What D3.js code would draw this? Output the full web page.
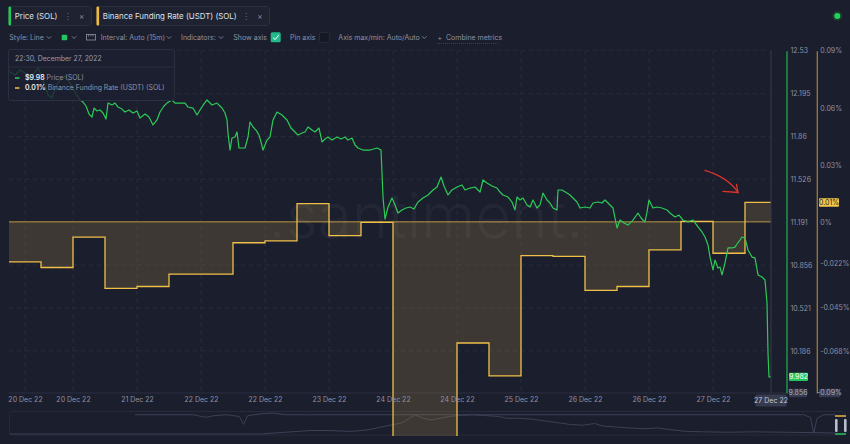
<!DOCTYPE html>
<html>
<head>
<meta charset="utf-8">
<script src="https://cdn.jsdelivr.net/npm/d3@7"></script>
<style>
  html, body { margin: 0; padding: 0; background: #1b1e2c; }
  svg { display: block; font-family: Inter, "DejaVu Sans", sans-serif; }
</style>
</head>
<body>
<div id="viz"></div>
<script>
// ---- data ----
const startTime = "2022-12-20 00:00"
const endTime = "2022-12-27 22:30"

// price of SOL: [hours since start, price]
const priceSeries = [
  [0, 12.37], [0.25, 12.364], [1.5, 12.34], [2.75, 12.379], [4, 12.356], [5.25, 12.317], [6.5, 12.364],
  [7.25, 12.395], [8.5, 12.301], [9.75, 12.184], [10.75, 12.16], [11.75, 12.254], [12.75, 12.301],
  [14, 12.332], [15.25, 12.278], [16.5, 12.207], [17.75, 12.145], [18.5, 12.129], [19.25, 12.098],
  [20, 12.035], [20.75, 12.012], [21.25, 12.082], [22, 12.059], [22.75, 12.067], [23.5, 12.043],
  [24.25, 11.996], [24.75, 12.121], [25.75, 12.106], [26.5, 12.121], [27.25, 12.09], [28.25, 12.074],
  [29, 12.051], [30, 12.067], [31, 12.043], [32, 12.059], [32.75, 12.004], [34, 12.035], [35, 12.012],
  [36, 11.95], [37, 11.989], [37.75, 12.051], [38.75, 12.098], [39.5, 12.121], [40.75, 12.145],
  [41.5, 12.121], [42.75, 12.121], [44, 12.121], [44.75, 12.09], [46, 12.082], [47, 12.028],
  [47.75, 12.067], [48.75, 12.114], [49.5, 12.145], [50.75, 12.106], [52, 12.121], [53.25, 12.082],
  [54, 12.043], [54.5, 11.989], [54.75, 11.887], [55.25, 11.754], [55.75, 11.848], [56.5, 11.856],
  [57, 11.895], [57.5, 11.77], [58.25, 11.77], [59, 11.77], [59.75, 11.856], [60.25, 11.973],
  [61, 11.934], [61.75, 11.91], [62.5, 11.871], [63, 11.817], [63.5, 11.754], [64.5, 11.832],
  [65.25, 11.856], [66, 11.989], [67, 12.051], [68.25, 12.028], [69.5, 11.989], [70.5, 11.926],
  [71.5, 11.895], [72.25, 11.871], [73.25, 11.887], [74, 11.895], [74.75, 11.934], [75.75, 11.91],
  [76.5, 11.895], [77.5, 11.926], [78.25, 11.817], [79, 11.84], [79.75, 11.856], [80.75, 11.832],
  [82, 11.856], [83, 11.84], [84, 11.856], [84.75, 11.832], [85.75, 11.848], [86.5, 11.793],
  [87.25, 11.77], [88.5, 11.754], [90.25, 11.754], [92, 11.77], [93, 11.754], [93.25, 11.575],
  [93.5, 11.387], [94, 11.215], [94.75, 11.309], [95.75, 11.379], [96.5, 11.325], [97.25, 11.262],
  [98.25, 11.286], [99.25, 11.301], [100.25, 11.309], [101.25, 11.293], [102.25, 11.348],
  [103.5, 11.379], [104.75, 11.403], [106, 11.442], [107, 11.465], [108, 11.543], [108.75, 11.473],
  [109.75, 11.403], [110.75, 11.442], [112, 11.465], [113.25, 11.481], [114, 11.442], [115.25, 11.457],
  [116.5, 11.465], [117.75, 11.426], [118.5, 11.52], [119.5, 11.496], [120.75, 11.473], [122, 11.457],
  [122.75, 11.426], [123.5, 11.403], [124.75, 11.387], [125.75, 11.348], [126.5, 11.286], [127, 11.387],
  [127.75, 11.364], [128.5, 11.379], [129.5, 11.325], [130.25, 11.309], [131, 11.364], [132, 11.301],
  [132.75, 11.325], [133.5, 11.418], [134.5, 11.364], [135.25, 11.34], [136, 11.301], [137, 11.286],
  [137.25, 11.442], [138.25, 11.442], [139.5, 11.418], [140.25, 11.403], [141, 11.379], [142, 11.348],
  [142.75, 11.301], [144, 11.309], [145.25, 11.301], [146, 11.34], [147.25, 11.348], [148.25, 11.34],
  [149, 11.364], [150.25, 11.325], [151, 11.301], [152, 11.145], [152.75, 11.207], [153.75, 11.184],
  [154.75, 11.168], [156, 11.207], [157.25, 11.262], [158, 11.223], [159, 11.192], [159.5, 11.27],
  [160, 11.364], [161, 11.301], [162, 11.309], [163.25, 11.301], [164.5, 11.286], [165.25, 11.262],
  [166.5, 11.231], [167.5, 11.246], [168.5, 11.207], [169.75, 11.192], [171, 11.207], [172.25, 11.153],
  [173.25, 11.114], [174, 11.075], [174.75, 11.012], [175.25, 10.918], [176, 10.817], [176.5, 10.895],
  [177.25, 10.832], [177.75, 10.84], [178.25, 10.778], [179, 10.872], [179.75, 10.989], [180.75, 10.989],
  [181.5, 10.996], [182, 11.02], [182.75, 11.051], [183.25, 11.075], [184, 11.067], [184.75, 10.973],
  [185.75, 10.918], [186.5, 10.911], [187.25, 10.778], [188.25, 10.762], [189, 10.739], [189.5, 10.559],
  [189.75, 10.168], [190, 9.981], [190.5, 9.982]
]

// Binance funding rate (%), one value per 8h period from the start
const fundingHours = 8
const fundingRates = [
  -0.021, -0.024, -0.008, -0.035, -0.034, -0.0275, -0.0275, -0.011,
  -0.010, 0.0096, -0.0072, -0.0003, -0.15, -0.15, -0.0637, -0.081,
  -0.0178, -0.0182, -0.036, -0.034, -0.0147, 0.0002, -0.0165, 0.0102
]

const priceTicks = [12.53, 12.195, 11.86, 11.526, 11.191, 10.856, 10.521, 10.186, 9.856]
const fundingTicks = [0.09, 0.06, 0.03, 0, -0.022, -0.045, -0.068, -0.09]
const timeTicks = [
  "2022-12-20 04:00", "2022-12-20 16:00", "2022-12-21 08:00", "2022-12-22 00:00",
  "2022-12-22 16:00", "2022-12-23 08:00", "2022-12-24 00:00", "2022-12-24 16:00",
  "2022-12-25 08:00", "2022-12-26 00:00", "2022-12-26 16:00", "2022-12-27 08:00"
]

// overview strip below the chart (longer history), [position %, value]
const navPrice = [
  [0, 0], [30, 0], [33, 2], [36, 4], [38, 4], [41, 3], [43, 5], [45, 9], [47, 13], [48.5, 22],
  [49.5, 18], [50.5, 16], [52, 19], [53.5, 21], [55.5, 22], [57, 21], [58.5, 20], [59.5, 18],
  [61, 18], [62.5, 17], [64, 15], [65.5, 13], [67, 11], [68.5, 10], [70, 12], [71, 9], [72.5, 8],
  [74, 7], [76, 6], [77.5, 7], [79, 5], [81, 3], [83, 2.5], [86, 2], [89, 2.5], [93, 2], [97, 1.5], [98.8, 1]
]
const navFunding = [
  [15, 22], [22, 22], [23, 20], [23.5, 19], [24.5, 21], [26, 22], [27.5, 20], [28, 11], [28.5, 21],
  [30, 23], [31.5, 24], [33, 22], [36, 22], [40, 22], [48, 22], [60, 22], [75, 22], [90, 22],
  [95, 22], [95.8, 19], [96.2, 1], [96.6, 18], [97.4, 22], [98.8, 22]
]

// ---- chart ----
const width = 850
const height = 444
const parseTime = d3.timeParse("%Y-%m-%d %H:%M")
const t0 = parseTime(startTime)
const t1 = parseTime(endTime)
const atHour = h => new Date(t0.getTime() + h * 3600 * 1000)

const price = priceSeries.map(d => ({ t: atHour(d[0]), v: d[1] }))
const funding = fundingRates.map((v, i) => ({ t: atHour(i * fundingHours), v }))
funding.push({ t: t1, v: fundingRates[fundingRates.length - 1] })

const x = d3.scaleTime().domain([t0, t1]).range([9, 771])
const yPrice = d3.scaleLinear().domain([9.856, 12.53]).range([393, 50.7])
const yFunding = d3.scaleLinear().domain([-0.09, 0.09]).range([393, 50.7])

const svg = d3.select("#viz").append("svg")
  .attr("width", width)
  .attr("height", height)

svg.append("rect").attr("width", width).attr("height", height).attr("fill", "#1b1e2c")

const textCol = "#8e92a6"

// clip for the plot
svg.append("clipPath").attr("id", "plot-clip")
  .append("rect").attr("x", 9).attr("y", 45).attr("width", 762).attr("height", 391)

// gridlines
const grid = svg.append("g")
grid.selectAll(".hg")
  .data(priceTicks.slice(0, -1))
  .enter().append("line")
    .attr("x1", 9).attr("x2", 771)
    .attr("y1", d => yPrice(d)).attr("y2", d => yPrice(d))
    .attr("stroke", "#282c3d")
    .attr("stroke-dasharray", "4,4")
grid.selectAll(".vg")
  .data(timeTicks.map(parseTime))
  .enter().append("line")
    .attr("x1", d => x(d)).attr("x2", d => x(d))
    .attr("y1", 50.7).attr("y2", 393)
    .attr("stroke", "#282c3d")
    .attr("stroke-dasharray", "4,4")
grid.append("line")
  .attr("x1", 9).attr("x2", 786).attr("y1", yPrice(9.856)).attr("y2", yPrice(9.856))
  .attr("stroke", "#2b2f40")

// overview strip
const nav = svg.append("g")
nav.append("rect")
  .attr("x", 9.5).attr("y", 411.5).attr("width", 836).attr("height", 23.5).attr("rx", 3)
  .attr("fill", "none").attr("stroke", "#262a3a")
const xNav = d3.scaleLinear().domain([0, 100]).range([9.5, 845.5])
const yNav = d3.scaleLinear().domain([0, 24]).range([434, 413])
const navLine = d3.line().x(d => xNav(d[0])).y(d => yNav(d[1]))
nav.append("path").attr("d", navLine(navPrice)).attr("fill", "none").attr("stroke", "#3b4056").attr("stroke-width", 1)
nav.append("path").attr("d", navLine(navFunding)).attr("fill", "none").attr("stroke", "#3b4056").attr("stroke-width", 1)
nav.append("line").attr("x1", 835).attr("x2", 846).attr("y1", 416).attr("y2", 416).attr("stroke", "#e5b645").attr("stroke-width", 1.5)
nav.append("line").attr("x1", 835).attr("x2", 846).attr("y1", 434).attr("y2", 434).attr("stroke", "#22c55e").attr("stroke-width", 1.5)
nav.selectAll(".handle").data([835, 844]).enter().append("rect")
  .attr("x", d => d).attr("y", 419).attr("width", 2.6).attr("height", 13).attr("rx", 1)
  .attr("fill", "#b9bdd0")

// funding rate area + step line
const plot = svg.append("g").attr("clip-path", "url(#plot-clip)")
const area = d3.area()
  .curve(d3.curveStepAfter)
  .x(d => x(d.t))
  .y0(yFunding(0))
  .y1(d => yFunding(d.v))
plot.append("path")
  .attr("d", area(funding))
  .attr("fill", "rgb(200,160,80)")
  .attr("fill-opacity", 0.2)
plot.append("line")
  .attr("x1", 9).attr("x2", 771)
  .attr("y1", yFunding(0)).attr("y2", yFunding(0))
  .attr("stroke", "#b8953f").attr("stroke-width", 1)
const stepLine = d3.line()
  .curve(d3.curveStepAfter)
  .x(d => x(d.t))
  .y(d => yFunding(d.v))
plot.append("path")
  .attr("d", stepLine(funding))
  .attr("fill", "none")
  .attr("stroke", "#f0bf48")
  .attr("stroke-width", 1.3)

// watermark
svg.append("text")
  .attr("x", 426).attr("y", 238)
  .attr("text-anchor", "middle")
  .attr("font-size", 62)
  .attr("font-weight", 300)
  .attr("fill", "#ffffff")
  .attr("fill-opacity", 0.04)
  .text(".santiment.")

// price line
const priceLine = d3.line()
  .x(d => x(d.t))
  .y(d => yPrice(d.v))
plot.append("path")
  .attr("d", priceLine(price))
  .attr("fill", "none")
  .attr("stroke", "#2ccb58")
  .attr("stroke-width", 1.2)
  .attr("stroke-linejoin", "round")

// crosshair at last point
svg.append("line")
  .attr("x1", x(t1)).attr("x2", x(t1)).attr("y1", 50.7).attr("y2", 393)
  .attr("stroke", "#363b4f")

// x axis
const xAxis = d3.axisBottom(x)
  .tickValues(timeTicks.map(parseTime))
  .tickFormat(d3.timeFormat("%d %b %y"))
  .tickSize(0)
  .tickPadding(4)
const xg = svg.append("g").attr("transform", "translate(0,393)").call(xAxis)
xg.select(".domain").remove()
xg.selectAll("text").attr("fill", textCol).attr("font-size", 7).attr("font-family", "Inter")

// crosshair date badge
const lastLabel = svg.append("g").attr("transform", `translate(${x(t1)},400.5)`)
lastLabel.append("rect").attr("x", -15.5).attr("y", -6).attr("width", 31).attr("height", 12).attr("rx", 1.5).attr("fill", "#363b50")
lastLabel.append("text").attr("text-anchor", "middle").attr("dy", "0.35em")
  .attr("font-size", 7).attr("fill", "#c5c8d6").text(d3.timeFormat("%d %b %y")(t1))

// right axes (the lowest tick of each is shown in a badge instead)
const priceAxis = d3.axisRight(yPrice).tickValues(priceTicks.slice(0, -1)).tickSize(0).tickSizeOuter(0).tickPadding(4).tickFormat(d => d)
const pg = svg.append("g").attr("transform", "translate(786.5,0)").call(priceAxis)
pg.select(".domain").attr("stroke", "#21a84a").attr("stroke-width", 1.3)
pg.selectAll("text").attr("fill", textCol).attr("font-size", 7).attr("font-family", "Inter")

const fundAxis = d3.axisRight(yFunding).tickValues(fundingTicks.slice(0, -1)).tickSize(0).tickSizeOuter(0).tickPadding(3.5).tickFormat(d => d + "%")
const fg = svg.append("g").attr("transform", "translate(816.8,0)").call(fundAxis)
fg.select(".domain").attr("stroke", "#a27c2e").attr("stroke-width", 1.3)
fg.selectAll("text").attr("fill", textCol).attr("font-size", 7).attr("font-family", "Inter")

// badges on the axes
function badge(cx, cy, label, fill, color, w) {
  const g = svg.append("g").attr("transform", `translate(${cx},${cy})`)
  g.append("rect").attr("x", 0).attr("y", -4.2).attr("width", w).attr("height", 8.4).attr("rx", 1).attr("fill", fill)
  g.append("text").attr("x", w / 2).attr("dy", "0.35em").attr("text-anchor", "middle")
    .attr("font-size", 7).attr("fill", color).text(label)
}
const lowPrice = priceTicks[priceTicks.length - 1]
const lowRate = fundingTicks[fundingTicks.length - 1]
badge(789, yPrice(lowPrice), String(lowPrice), "#353a4f", "#a9adbf", 18)
badge(819, yFunding(lowRate), lowRate + "%", "#353a4f", "#a9adbf", 21)
const lastPrice = price[price.length - 1].v
const lastRate = fundingRates[fundingRates.length - 1]
badge(789, yPrice(lastPrice), lastPrice.toFixed(3), "#22c55e", "#ffffff", 19)
badge(819, yFunding(lastRate), lastRate.toFixed(2) + "%", "#f4c84c", "#2a2418", 20)

// red annotation arrow pointing at the last funding step
const tipX = x(atHour(182.25))
const tipY = yFunding(lastRate) - 10
svg.append("path")
  .attr("d", `M${tipX - 33},${tipY - 22} Q${tipX - 10},${tipY - 15} ${tipX},${tipY}`)
  .attr("fill", "none").attr("stroke", "#e3322c").attr("stroke-width", 1.3).attr("stroke-linecap", "round")
svg.append("path")
  .attr("d", `M${tipX - 15},${tipY - 1} L${tipX},${tipY} L${tipX - 1.5},${tipY - 8}`)
  .attr("fill", "none").attr("stroke", "#e3322c").attr("stroke-width", 1.3).attr("stroke-linecap", "round")

// tooltip
const tip = svg.append("g")
tip.append("rect")
  .attr("x", 8.5).attr("y", 49.5).attr("width", 166).attr("height", 51).attr("rx", 2)
  .attr("fill", "#1d2030").attr("fill-opacity", 0.82).attr("stroke", "#2b2f40")
tip.append("line").attr("x1", 8.5).attr("x2", 174.5).attr("y1", 67).attr("y2", 67).attr("stroke", "#2b2f40")
tip.append("text").attr("x", 15).attr("y", 59).attr("dy", "0.35em")
  .attr("font-size", 6.9).attr("fill", "#9a9eb1")
  .text(d3.timeFormat("%H:%M, %B %d, %Y")(t1))
const rows = [
  { y: 78, color: "#22c55e", value: "$" + lastPrice.toFixed(2), name: " Price (SOL)" },
  { y: 88, color: "#e5b645", value: lastRate.toFixed(2) + "%", name: " Binance Funding Rate (USDT) (SOL)" }
]
rows.forEach(r => {
  tip.append("line").attr("x1", 15).attr("x2", 19.5).attr("y1", r.y).attr("y2", r.y)
    .attr("stroke", r.color).attr("stroke-width", 1.6)
  const t = tip.append("text").attr("x", 25).attr("y", r.y).attr("dy", "0.35em").attr("font-size", 6.9)
  t.append("tspan").attr("fill", "#eef0f5").attr("font-weight", 600).text(r.value)
  t.append("tspan").attr("fill", "#8f93a7").text(r.name)
})

// metric tabs
const tabs = [
  { x: 8.5, w: 83, color: "#22c55e", label: "Price (SOL)", menu: 67.7, close: 81.7 },
  { x: 96.5, w: 173, color: "#f0b93a", label: "Binance Funding Rate (USDT) (SOL)", menu: 246, close: 260 }
]
tabs.forEach(tb => {
  const g = svg.append("g")
  g.append("rect").attr("x", tb.x).attr("y", 6.5).attr("width", tb.w).attr("height", 19).attr("rx", 3)
    .attr("fill", "#1e2231").attr("stroke", "#2b3041")
  g.append("rect").attr("x", tb.x).attr("y", 6.5).attr("width", 2.6).attr("height", 19).attr("rx", 1)
    .attr("fill", tb.color)
  g.append("text").attr("x", tb.x + 6.3).attr("y", 16).attr("dy", "0.35em")
    .attr("font-size", 7.9).attr("fill", "#dfe2ea").text(tb.label)
  g.append("text").attr("x", tb.menu).attr("y", 16).attr("dy", "0.35em").attr("text-anchor", "middle")
    .attr("font-size", 8.5).attr("fill", "#6d7288").text("⋮")
  g.append("text").attr("x", tb.close).attr("y", 16).attr("dy", "0.35em").attr("text-anchor", "middle")
    .attr("font-size", 8).attr("fill", "#8a8fa3").text("×")
})

// toolbar
const bar = svg.append("g")
function chevron(cx, cy) {
  bar.append("path").attr("d", `M${cx - 2.2},${cy - 1} L${cx},${cy + 1.2} L${cx + 2.2},${cy - 1}`)
    .attr("fill", "none").attr("stroke", textCol).attr("stroke-width", 0.8)
}
function label(lx, txt) {
  bar.append("text").attr("x", lx).attr("y", 37.3).attr("dy", "0.35em")
    .attr("font-size", 7).attr("fill", textCol).text(txt)
}
label(9.3, "Style: Line"); chevron(49, 37.3)
bar.append("rect").attr("x", 61.7).attr("y", 34.7).attr("width", 5.5).attr("height", 5.5).attr("rx", 0.8).attr("fill", "#22c55e")
chevron(74, 37.3)
bar.append("rect").attr("x", 86.5).attr("y", 34.5).attr("width", 9).attr("height", 5.5).attr("fill", "none").attr("stroke", textCol).attr("stroke-width", 0.8)
bar.selectAll(".rt").data([88.5, 90.8, 93.1]).enter().append("line")
  .attr("x1", d => d).attr("x2", d => d).attr("y1", 34.5).attr("y2", 36.5).attr("stroke", textCol).attr("stroke-width", 0.7)
label(100.7, "Interval: Auto (15m)"); chevron(169, 37.3)
label(181, "Indicators:"); chevron(221, 37.3)
label(233.3, "Show axis")
bar.append("rect").attr("x", 270.7).attr("y", 32.3).attr("width", 10).attr("height", 10).attr("rx", 1.5).attr("fill", "#23b88c")
bar.append("path").attr("d", "M273,37.6 L275.2,39.6 L278.6,35.2").attr("fill", "none").attr("stroke", "#ffffff").attr("stroke-width", 1)
label(290, "Pin axis")
bar.append("rect").attr("x", 319.5).attr("y", 32.5).attr("width", 9.8).attr("height", 9.8).attr("rx", 1.5).attr("fill", "#151825").attr("stroke", "#272b3a")
label(338.3, "Axis max/min: Auto/Auto"); chevron(424.3, 37.3)
label(437.5, "+")
label(446, "Combine metrics")
bar.append("line").attr("x1", 437).attr("x2", 499).attr("y1", 43.5).attr("y2", 43.5)
  .attr("stroke", "#3c4156").attr("stroke-dasharray", "1,1")

// live dot
svg.append("circle").attr("cx", 837.3).attr("cy", 16).attr("r", 5).attr("fill", "#1d3a2c")
svg.append("circle").attr("cx", 837.3).attr("cy", 16).attr("r", 3).attr("fill", "#22d35a")
</script>
</body>
</html>
